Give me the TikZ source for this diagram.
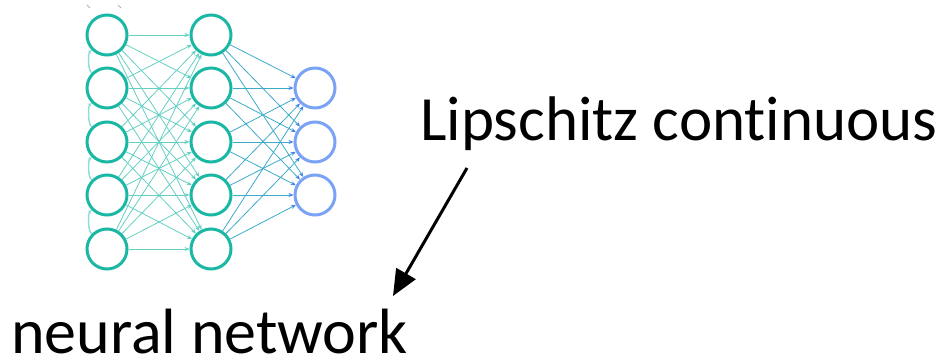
\documentclass[tikz,border=0pt]{standalone}
\usepackage{fontspec}
\setmainfont{Carlito}[Ligatures=NoCommon]
\usetikzlibrary{arrows.meta}
\definecolor{teal1}{RGB}{26,184,164}
\definecolor{tealedge}{RGB}{100,208,195}
\definecolor{midedge}{RGB}{60,170,200}
\definecolor{outblue}{RGB}{122,162,245}
\definecolor{tipblue}{RGB}{70,130,235}
\tikzset{
  neuron/.style={circle,draw=teal1,line width=3pt,minimum size=40pt,inner sep=0pt},
  outneuron/.style={circle,draw=outblue,line width=3pt,minimum size=40pt,inner sep=0pt},
  edgeA/.style={draw=tealedge,line width=0.8pt,-{Stealth[length=5pt,width=4pt]}},
  edgeB/.style={draw=midedge,line width=0.8pt,-{Stealth[length=5pt,width=4pt,color=tipblue]}},
  selfarr/.style={draw=tealedge!70,line width=1.5pt,-{Stealth[length=4pt,width=4pt]}},
  label/.style={inner sep=0pt,font=\fontsize{63}{70}\selectfont},
  bigarrow/.style={draw=black,line width=3pt,-{Triangle[length=26pt,width=22pt]}}
}
\begin{document}
\begin{tikzpicture}[x=1pt,y=-1pt]
\useasboundingbox (0,0) rectangle (946,361);
\foreach \i/\y in {1/35,2/88,3/142,4/195,5/249}{
  \node[neuron] (a\i) at (107,\y) {};
  \node[neuron] (b\i) at (211,\y) {};
}
\foreach \i/\y in {1/88,2/142,3/195}{
  \node[outneuron] (c\i) at (315,\y) {};
}
\foreach \i in {1,...,5}{
  \foreach \j in {1,...,5}{
    \draw[edgeA] (a\i) -- (b\j);
  }
  \foreach \k in {1,2,3}{
    \draw[edgeB] (b\i) -- (c\k);
  }
}
\foreach \i/\j in {2/1,3/2,4/3,5/4}{
  \draw[selfarr] (a\i.135) .. controls +(-4,-2) and +(-4,3) .. (a\j.225);
}
\draw[gray!60,line width=1pt] (87,5) -- (90,8);
\draw[gray!60,line width=1pt] (118,5) -- (121,8);
\node[label,anchor=base west] (lip) at (420,140) {Lipschitz continuous};
\node[label,anchor=base west,font=\fontsize{64}{70}\selectfont] (nn) at (11,353) {neural network};
\coordinate (arrs) at (467,168);
\coordinate (arrt) at (393,296);
\draw[bigarrow] (arrs) -- (arrt);
\end{tikzpicture}
\end{document}
